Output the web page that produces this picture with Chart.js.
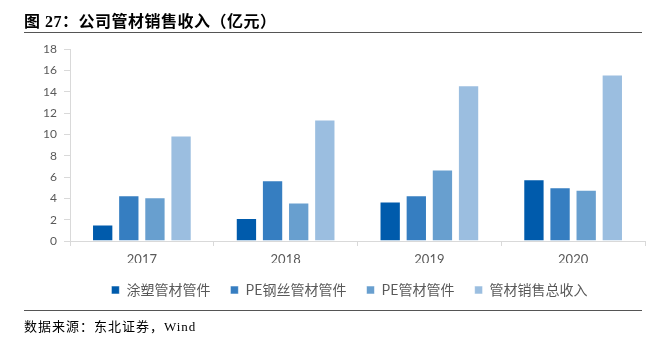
<!DOCTYPE html>
<html>
<head>
<meta charset="utf-8">
<script src="https://cdn.jsdelivr.net/npm/chart.js@4"></script>
<style>
  html, body { margin: 0; padding: 0; background: #fff; }
  #wrap { position: relative; width: 652px; height: 341px; overflow: hidden; }
  #chart { position: absolute; left: 0; top: 0; }
  .title { position: absolute; left: 24px; top: 8px; line-height: 18px; font: bold 16px "Liberation Serif", "Noto Sans CJK SC", serif; letter-spacing: 0.5px; color: #000; white-space: nowrap; }
  .rule { position: absolute; left: 24px; width: 618px; height: 1px; background: #555; }
  .source { position: absolute; left: 24px; top: 316px; line-height: 16px; font: 13px "Liberation Serif", "Noto Sans CJK SC", serif; letter-spacing: 1px; color: #000; white-space: nowrap; }
</style>
</head>
<body>
<div id="wrap">
  <canvas id="chart" width="652" height="341"></canvas>
  <div class="title">图 27：公司管材销售收入（亿元）</div>
  <div class="rule" style="top:32px"></div>
  <div class="rule" style="top:310px"></div>
  <div class="source">数据来源：东北证券，Wind</div>
</div>
<script>
// Pipe sales revenue by product line, 100 million yuan
const years = ['2017', '2018', '2019', '2020'];
const coatedPipes = [1.55, 2.15, 3.7, 5.8];
const peSteelWirePipes = [4.3, 5.7, 4.3, 5.05];
const pePipes = [4.1, 3.6, 6.7, 4.8];
const totalPipeRevenue = [9.9, 11.4, 14.6, 15.6];
const seriesNames = ['涂塑管材管件', 'PE钢丝管材管件', 'PE管材管件', '管材销售总收入'];
const yTicks = [0, 2, 4, 6, 8, 10, 12, 14, 16, 18];

const colors = ['#005BAC', '#367EC1', '#689FCF', '#9BBEE0'];
const seriesData = [coatedPipes, peSteelWirePipes, pePipes, totalPipeRevenue];

const datasets = seriesNames.map((name, i) => ({
  label: name,
  data: seriesData[i],
  backgroundColor: colors[i],
  borderColor: 'rgba(255,255,255,0.55)',
  borderWidth: 1,
  barPercentage: 0.816,
  categoryPercentage: 0.727
}));

const axisColor = '#D9D9D9';
const labelFamily = '"Lato", "Noto Sans", "DejaVu Sans", sans-serif';
Chart.defaults.font.family = labelFamily;

// Nudge the bottom legend so its items sit centred under the plot rather than the whole canvas
const legendShift = {
  id: 'legendShift',
  afterLayout(chart) {
    const lg = chart.legend;
    if (lg) { lg.left += 17; lg.right += 17; }
  }
};

const chart = new Chart(document.getElementById('chart'), {
  type: 'bar',
  data: { labels: years, datasets },
  plugins: [legendShift],
  options: {
    responsive: false,
    animation: false,
    devicePixelRatio: 1,
    layout: { padding: { left: 20, right: 7, top: 49, bottom: 34 } },
    plugins: {
      tooltip: { enabled: false },
      legend: {
        position: 'bottom',
        labels: {
          boxWidth: 8,
          boxHeight: 8,
          padding: 20,
          color: '#595959',
          font: { family: '"Noto Sans CJK SC", sans-serif', size: 14 }
        }
      }
    },
    scales: {
      x: {
        grid: { display: true, drawOnChartArea: false, drawTicks: true, tickLength: 5, color: axisColor, offset: true },
        border: { color: axisColor, width: 1 },
        ticks: { color: '#595959', font: { family: labelFamily, size: 13 }, padding: 6 },
        afterFit: s => { s.height = 22; }
      },
      y: {
        min: 0,
        max: 18,
        afterBuildTicks: s => { s.ticks = yTicks.map(v => ({ value: v })); },
        grid: { display: true, drawOnChartArea: false, drawTicks: true, tickLength: 6, color: axisColor },
        border: { color: axisColor, width: 1 },
        ticks: { color: '#595959', font: { family: labelFamily, size: 12 }, padding: 7 },
        afterFit: s => { s.width = 50; }
      }
    }
  }
});

// Redraw once the label fonts are ready so tick text uses them
if (document.fonts && document.fonts.load) {
  Promise.all([document.fonts.load('13px "Lato"'), document.fonts.load('12px "Lato"')])
    .then(() => chart.update())
    .catch(() => {});
}
</script>
</body>
</html>
